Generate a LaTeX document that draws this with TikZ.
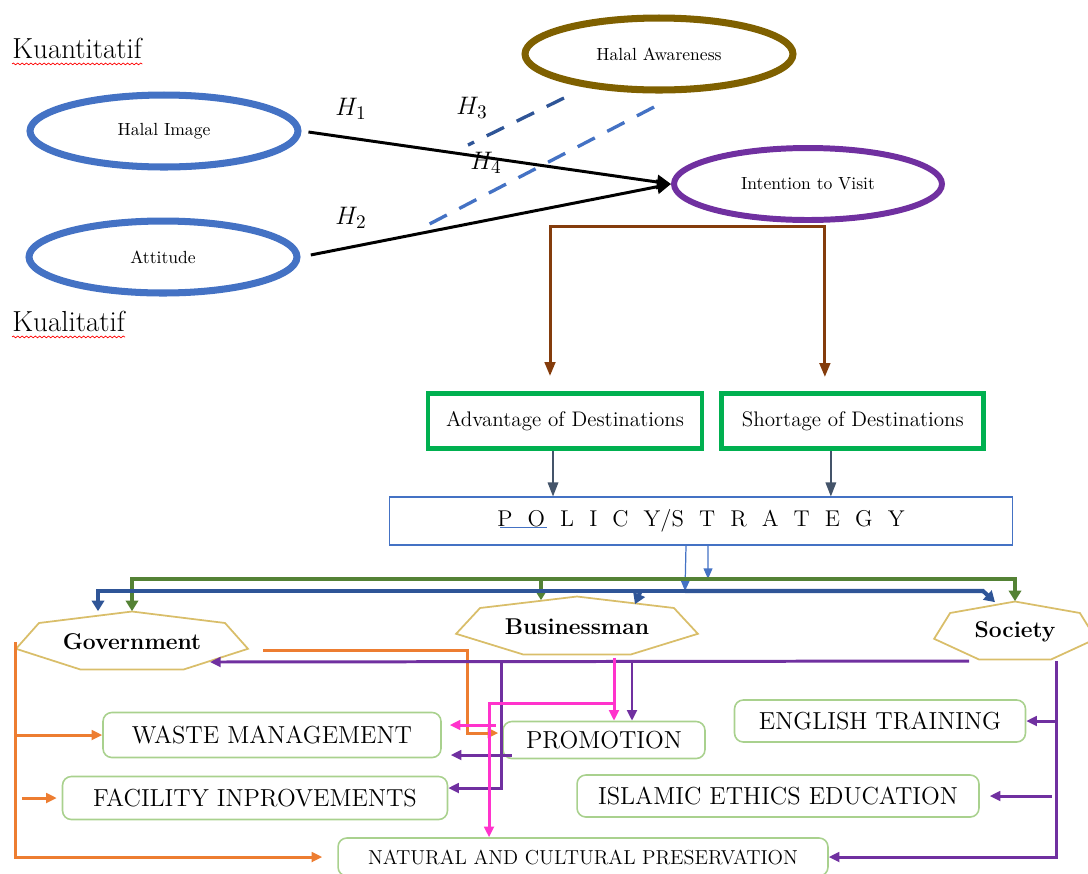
\documentclass[tikz,border=0pt]{standalone}
\usepackage{fontspec}
\usepackage{amsmath}
\usepackage{xcolor}
\usepackage{tikz}
\usetikzlibrary{shapes.geometric, arrows.meta, positioning, calc, decorations.pathmorphing}

\definecolor{ovalblue}{HTML}{4472C4}
\definecolor{ovalgold}{HTML}{7F6000}
\definecolor{ovalpurple}{HTML}{7030A0}
\definecolor{linkbrown}{HTML}{843C0C}
\definecolor{boxgreen}{HTML}{00B050}
\definecolor{slate}{HTML}{44546A}
\definecolor{darkblue}{HTML}{2F5597}
\definecolor{leafgreen}{HTML}{548235}
\definecolor{actorgold}{HTML}{D9BE6A}
\definecolor{taskgreen}{HTML}{A9D18E}
\definecolor{linkorange}{HTML}{ED7D31}
\definecolor{linkpink}{HTML}{FF33CC}

% heptagon around an actor node: node, x radius, y radius
\newcommand{\heptagonat}[3]{%
  \draw[actor] (#1) +(90:#2 and #3) \foreach \k in {1,...,6} {-- +(90+\k*360/7:#2 and #3)} -- cycle;}
% spaced letters
\newcommand{\gapl}{\hspace{0.66em}}

\begin{document}
\begin{tikzpicture}[
    x=0.02cm, y=-0.02cm,
    oval/.style={ellipse, draw=ovalblue, line width=4pt, inner sep=0pt, minimum width=5.36cm, minimum height=1.44cm, font=\fontsize{10}{12}\selectfont},
    gapbox/.style={rectangle, draw=boxgreen, line width=2.8pt, inner sep=0pt, minimum height=1.1cm, font=\fontsize{12}{14}\selectfont},
    actor/.style={draw=actorgold, line width=1pt},
    actorname/.style={inner sep=0pt, minimum height=1.22cm, font=\fontsize{13}{15}\selectfont\bfseries},
    task/.style={rectangle, rounded corners=5pt, draw=taskgreen, line width=0.9pt, inner sep=0pt, font=\fontsize{14}{16}\selectfont},
    hyp/.style={font=\fontsize{15}{17}\selectfont},
    headtip/.style={-{Triangle[length=6pt, width=5.5pt]}},
    effect/.style={draw=black, line width=1.7pt, -{Triangle[length=8pt, width=8pt]}},
    moder/.style={draw=darkblue, line width=1.9pt, dash pattern=on 11pt off 8pt},
    feed/.style={draw=linkbrown, line width=1.7pt, {Triangle[length=8pt, width=6pt]}-{Triangle[length=8pt, width=6pt]}},
    input/.style={draw=slate, line width=0.9pt, -{Triangle[length=8pt, width=6pt]}},
    split/.style={draw=ovalblue, line width=0.7pt, -{Triangle[length=6pt, width=5pt]}},
    trunk/.style={line width=2.3pt, -{Triangle[length=6pt, width=7pt]}},
    orangelink/.style={draw=linkorange, line width=1.7pt, headtip},
    purplelink/.style={draw=ovalpurple, line width=1.7pt, headtip},
    pinklink/.style={draw=linkpink, line width=1.7pt, headtip},
    wavy/.style={draw=red, line width=0.4pt, decorate, decoration={snake, amplitude=0.5pt, segment length=2.5pt}}
]
\useasboundingbox (0,0) rectangle (1088,873);
\clip (0,0) rectangle (1088,873);

% quantitative part
\node[anchor=west, inner sep=0pt, font=\fontsize{16.5}{18}\selectfont] (quant) at (12,48) {Kuantitatif};
\node[anchor=west, inner sep=0pt, font=\fontsize{16.5}{18}\selectfont] (qual) at (12,321) {Kualitatif};
\draw[wavy] ([yshift=-3pt]quant.south west) -- ([yshift=-3pt]quant.south east);
\draw[wavy] ([yshift=-3pt]qual.south west) -- ([yshift=-3pt]qual.south east);

\node[oval] (himage) at (164,131) {Halal Image};
\node[oval] (attit) at (163,257) {Attitude};
\node[oval, draw=ovalgold] (haware) at (659,54) {Halal Awareness};
\node[oval, draw=ovalpurple, line width=3.4pt] (intent) at (808,184) {Intention to Visit};

\node[hyp] (h1) at (351,109) {$H_1$};
\node[hyp] (h2) at (351,218) {$H_2$};
\node[hyp] (h3) at (472,108) {$H_3$};
\node[hyp] (h4) at (486,163) {$H_4$};

\draw[effect, shorten <=4pt] (himage.east) -- (intent.west);
\draw[effect, shorten <=6pt] (attit.east) -- (intent.west);
\coordinate (m3a) at (564,98);
\coordinate (m3b) at (468,145);
\coordinate (m4a) at (654,107);
\coordinate (m4b) at (418,230);
\draw[moder] (m3a) -- (m3b);
\draw[moder, draw=ovalblue] (m4a) -- (m4b);

% qualitative part
\node[gapbox, minimum width=5.48cm] (adv) at (565,421) {Advantage of Destinations};
\node[gapbox, minimum width=5.24cm, right=0.3cm of adv] (short) {Shortage of Destinations};
\node[draw=ovalblue, line width=0.6pt, minimum width=12.46cm, minimum height=0.96cm, inner sep=0pt, font=\fontsize{13}{15}\selectfont] (policy) at (701,521)
  {P\gapl O\gapl L\gapl I\gapl C\gapl Y/S\gapl T\gapl R\gapl A\gapl T\gapl E\gapl G\gapl Y};
\draw[ovalblue, line width=0.5pt] ([shift={(-201,6)}]policy.center) -- ++(47,0);

\draw[feed, shorten <=0.3cm, shorten >=0.28cm] ([xshift=-0.3cm]adv.north) |- ([yshift=-2pt]intent.south) -| ([xshift=-0.56cm]short.north);
\draw[input] ([xshift=-0.24cm]adv.south) -- ([xshift=-0.24cm]adv.south |- policy.north);
\draw[input] ([xshift=-0.44cm]short.south) -- ([xshift=-0.44cm]short.south |- policy.north);

\coordinate (gline) at (708,579);
\coordinate (bline) at (685,591);
\draw[split] ([xshift=-0.3cm]policy.south) -- (bline);
\draw[split] ([xshift=0.14cm]policy.south) -- (gline);

\node[actorname, minimum width=4.64cm] (gov) at (132,642) {Government};
\heptagonat{gov}{2.38cm}{0.61cm}
\node[actorname, minimum width=4.84cm] (bus) at (577,627) {Businessman};
\heptagonat{bus}{2.48cm}{0.61cm}
\node[actorname, minimum width=3.24cm] (soc) at (1015,632) {Society};
\heptagonat{soc}{1.66cm}{0.61cm}

\draw[trunk, leafgreen] (gline) -| (gov.north);
\draw[trunk, leafgreen] (gline) -| (soc.north);
\draw[trunk, leafgreen] (gline) -| ([shift={(-36,4)}]bus.north);
\draw[trunk, darkblue] (bline) -| ([xshift=-0.68cm]gov.north);
\draw[trunk, darkblue] (bline) -- ([xshift=-0.64cm]soc.north |- bline) -- ([shift={(-20,1)}]soc.north);
\draw[trunk, darkblue] ([shift={(64,-6)}]bus.north) -- ([shift={(58,8)}]bus.north);

\node[task, minimum width=6.76cm, minimum height=0.9cm] (waste) at (272,735) {WASTE MANAGEMENT};
\node[task, minimum width=7.7cm, minimum height=0.86cm] (facil) at (255,798) {FACILITY INPROVEMENTS};
\node[task, minimum width=4.04cm, minimum height=0.74cm] (promo) at (604,740) {PROMOTION};
\node[task, minimum width=5.82cm, minimum height=0.84cm] (english) at (880,721) {ENGLISH TRAINING};
\node[task, minimum width=8.04cm, minimum height=0.84cm] (islamic) at (778,796) {ISLAMIC ETHICS EDUCATION};
\node[task, minimum width=9.8cm, minimum height=0.76cm, font=\fontsize{11.5}{13}\selectfont] (natural) at (583,857) {NATURAL AND CULTURAL PRESERVATION};

% government links
\draw[orangelink] ([shift={(15,8)}]gov.east) -| ($(promo.west)+(-35,-7)$) -- ($(promo.west)+(-4,-7)$);
\draw[orangelink, shorten >=0.3cm] (gov.west) |- (natural.west);
\draw[orangelink] (gov.west |- waste.west) -- (waste.west);
\draw[orangelink] ([xshift=-0.8cm]facil.west) -- ([xshift=-0.1cm]facil.west);

% society links
\coordinate (pj) at (501,662);
\coordinate (sj) at (1056,661);
\draw[purplelink] ([shift={(-46,29)}]soc.center) -- ([shift={(78,20)}]gov.center);
\draw[purplelink] (pj) |- ([yshift=0.2cm]facil.east);
\draw[purplelink] ($(waste.east)+(70,20)$) -- ($(waste.east)+(9,20)$);
\draw[purplelink] ([xshift=0.56cm]promo.north |- pj) -- ([xshift=0.56cm]promo.north);
\draw[purplelink] (sj) |- (natural.east);
\draw[purplelink] (sj |- english.east) -- (english.east);
\draw[purplelink, shorten >=0.2cm] ([xshift=-0.08cm]sj |- islamic.east) -- (islamic.east);

% businessman links
\coordinate (mj) at (614,703);
\draw[pinklink] ([xshift=0.2cm]promo.north |- bus.south) -- ([xshift=0.2cm]promo.north);
\draw[pinklink] (mj) -| ([xshift=-1.88cm]natural.north);
\draw[pinklink] ($(waste.east)+(54,-10)$) -- ($(waste.east)+(8,-10)$);

\end{tikzpicture}
\end{document}
